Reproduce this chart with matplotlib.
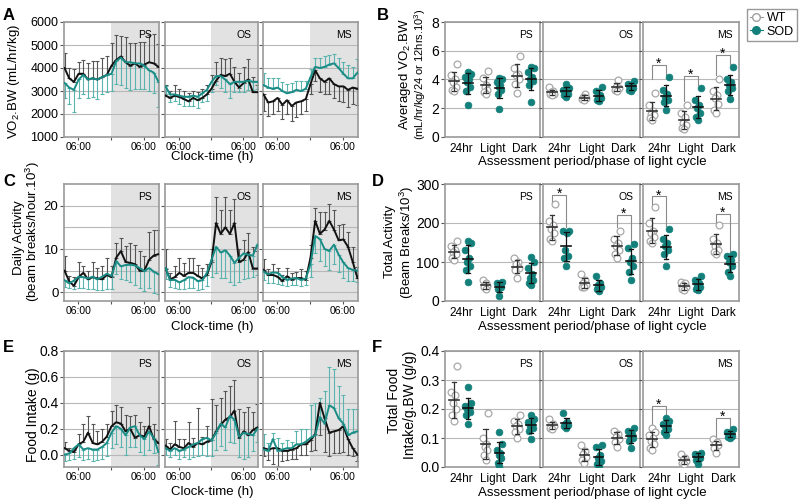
import numpy as np
import matplotlib
matplotlib.use("Agg")
import matplotlib.pyplot as plt
from matplotlib.lines import Line2D

plt.rcParams['font.family'] = ['Liberation Sans', 'DejaVu Sans']
plt.rcParams['mathtext.fontset'] = 'custom'
plt.rcParams['mathtext.rm'] = 'Liberation Sans'
plt.rcParams['mathtext.it'] = 'Liberation Sans:italic'

# ---- time course data (hours relative to 06:00, dark phase from 12 h) ----
HOURS = np.linspace(-5.0, 29.3, 21)
STAGES = ['PS', 'OS', 'MS']

VO2_PS_WT = [4000, 3550, 3400, 3750, 3750, 3500, 3550, 3500, 3600, 3700, 4100,
             4350, 4500, 4250, 4100, 4200, 4050, 4150, 4250, 4200, 4050]
VO2_PS_WT_ERR = [650, 450, 550, 500, 600, 700, 750, 800, 850, 800, 1000,
                 1100, 900, 1100, 1000, 900, 1100, 1000, 1200, 1300, 1000]
VO2_PS_SOD = [3350, 3150, 3050, 3500, 3700, 3500, 3550, 3500, 3600, 3700, 3750,
              4300, 4450, 4250, 4250, 4200, 4200, 4100, 3900, 3800, 3400]
VO2_PS_SOD_ERR = [650, 700, 950, 800, 850, 800, 800, 850, 750, 750, 750,
                  1000, 1200, 1100, 1200, 1100, 1100, 1000, 900, 900, 1100]
VO2_OS_WT = [2800, 2700, 2800, 2750, 2650, 2550, 2700, 2600, 2700, 2850, 3100,
             3450, 3700, 3650, 3750, 3400, 3150, 3350, 3500, 2950, 2950]
VO2_OS_WT_ERR = [450, 300, 450, 350, 350, 350, 300, 350, 400, 400, 600,
                 800, 750, 750, 700, 650, 650, 700, 900, 650, 300]
VO2_OS_SOD = [3200, 2850, 2850, 2800, 2750, 2750, 2800, 2750, 2900, 3050, 3400,
              3650, 3650, 3500, 3300, 3400, 3400, 3400, 3450, 3400, 3400]
VO2_OS_SOD_ERR = [350, 350, 300, 350, 400, 400, 450, 500, 400, 500, 450,
                  400, 500, 550, 600, 450, 450, 450, 400, 350, 300]
VO2_MS_WT = [2850, 2500, 2550, 2700, 2400, 2600, 2350, 2500, 2550, 2650, 3300,
             3900, 3550, 3400, 3550, 3300, 3200, 3200, 3050, 3150, 3100]
VO2_MS_WT_ERR = [700, 600, 550, 550, 600, 600, 650, 650, 550, 500, 450,
                 450, 600, 550, 700, 600, 650, 700, 750, 700, 700]
VO2_MS_SOD = [3250, 3150, 3100, 3150, 3000, 2900, 2950, 3050, 3000, 3100, 3600,
              4050, 4000, 4050, 4150, 4200, 4000, 3750, 3550, 3550, 3800]
VO2_MS_SOD_ERR = [550, 400, 450, 400, 400, 400, 400, 400, 450, 350, 350,
                  400, 450, 450, 400, 400, 450, 500, 600, 500, 600]

ACT_PS_WT = [5.0, 2.5, 1.5, 3.5, 4.5, 3.0, 3.5, 3.2, 3.0, 4.0, 3.5,
             8.0, 9.5, 7.0, 6.8, 6.5, 5.0, 5.0, 7.5, 8.5, 8.8]
ACT_PS_WT_ERR = [3.5, 1.2, 2.0, 3.5, 1.5, 2.0, 3.5, 2.5, 3.0, 4.0, 2.5,
                 3.5, 3.0, 3.8, 4.5, 4.5, 4.5, 3.5, 6.5, 6.0, 5.5]
ACT_PS_SOD = [2.8, 2.1, 2.7, 3.6, 3.5, 3.2, 3.6, 3.0, 3.6, 4.3, 3.8,
              7.2, 6.0, 6.3, 6.4, 6.2, 5.6, 4.9, 5.6, 4.8, 4.2]
ACT_PS_SOD_ERR = [1.5, 1.2, 2.0, 2.5, 2.5, 2.5, 2.8, 2.5, 3.0, 3.5, 3.0,
                  3.0, 3.0, 3.5, 4.0, 4.5, 4.5, 4.5, 4.5, 5.0, 4.5]
ACT_OS_WT = [5.5, 3.0, 3.5, 4.5, 3.8, 4.5, 4.5, 3.8, 3.2, 4.0, 7.0,
             16.0, 13.5, 15.0, 13.5, 16.0, 7.0, 7.5, 9.3, 5.5, 5.5]
ACT_OS_WT_ERR = [4.5, 1.5, 2.5, 3.5, 3.0, 3.5, 3.5, 2.5, 2.5, 2.5, 3.0,
                 6.0, 5.5, 7.0, 5.5, 5.5, 3.0, 4.5, 4.5, 5.0, 4.0]
ACT_OS_SOD = [5.6, 2.8, 2.9, 2.3, 2.8, 3.5, 3.4, 2.6, 2.8, 4.5, 7.5,
              10.5, 9.2, 9.7, 8.5, 6.8, 8.0, 9.0, 8.7, 8.5, 11.0]
ACT_OS_SOD_ERR = [2.5, 1.5, 2.0, 1.5, 2.0, 2.5, 2.5, 2.0, 2.0, 3.0, 4.0,
                  6.0, 6.0, 6.5, 6.0, 5.0, 5.5, 6.0, 5.5, 5.0, 7.0]
ACT_MS_WT = [5.2, 4.0, 4.0, 3.6, 2.6, 3.7, 2.9, 3.3, 3.3, 2.9, 8.0,
             16.5, 13.5, 14.5, 16.5, 14.5, 12.0, 12.2, 10.5, 7.0, 3.3]
ACT_MS_WT_ERR = [2.5, 1.5, 2.5, 2.0, 1.5, 2.0, 1.5, 1.5, 2.0, 2.0, 3.0,
                 3.0, 5.0, 4.0, 4.0, 4.5, 3.5, 3.5, 3.5, 3.5, 2.5]
ACT_MS_SOD = [4.8, 4.2, 4.6, 4.5, 3.6, 2.9, 3.2, 3.3, 2.9, 3.2, 6.5,
              13.0, 12.3, 10.0, 9.6, 11.0, 8.7, 6.9, 5.6, 5.2, 5.0]
ACT_MS_SOD_ERR = [2.0, 2.0, 2.5, 2.5, 2.0, 1.5, 1.5, 1.5, 1.5, 1.5, 3.0,
                  4.0, 5.0, 4.0, 4.5, 4.5, 4.0, 3.5, 3.0, 2.5, 2.5]

FOOD_PS_WT = [0.05, 0.03, 0.02, 0.08, 0.10, 0.17, 0.09, 0.08, 0.10, 0.14, 0.22,
              0.25, 0.24, 0.18, 0.20, 0.13, 0.15, 0.14, 0.22, 0.12, 0.09]
FOOD_PS_WT_ERR = [0.05, 0.02, 0.02, 0.08, 0.14, 0.13, 0.15, 0.10, 0.10, 0.10, 0.12,
                  0.13, 0.13, 0.13, 0.10, 0.18, 0.10, 0.08, 0.15, 0.12, 0.10]
FOOD_PS_SOD = [0.00, 0.01, 0.05, 0.08, 0.04, 0.05, 0.04, 0.04, 0.06, 0.09, 0.17,
               0.22, 0.20, 0.15, 0.21, 0.22, 0.15, 0.12, 0.18, 0.13, 0.02]
FOOD_PS_SOD_ERR = [0.05, 0.05, 0.08, 0.10, 0.08, 0.08, 0.09, 0.08, 0.09, 0.10, 0.12,
                   0.14, 0.14, 0.15, 0.15, 0.16, 0.13, 0.12, 0.14, 0.12, 0.10]
FOOD_OS_WT = [0.07, 0.04, 0.08, 0.06, 0.05, 0.09, 0.06, 0.09, 0.08, 0.10, 0.11,
              0.18, 0.23, 0.27, 0.29, 0.34, 0.13, 0.18, 0.15, 0.19, 0.21]
FOOD_OS_WT_ERR = [0.05, 0.05, 0.18, 0.06, 0.07, 0.16, 0.07, 0.27, 0.06, 0.12, 0.32,
                  0.20, 0.21, 0.22, 0.24, 0.24, 0.22, 0.15, 0.22, 0.14, 0.18]
FOOD_OS_SOD = [0.05, 0.03, 0.05, 0.03, 0.04, 0.06, 0.08, 0.09, 0.12, 0.13, 0.11,
               0.17, 0.24, 0.21, 0.30, 0.27, 0.14, 0.17, 0.16, 0.15, 0.20]
FOOD_OS_SOD_ERR = [0.05, 0.05, 0.05, 0.06, 0.06, 0.09, 0.10, 0.10, 0.12, 0.14, 0.12,
                   0.13, 0.17, 0.17, 0.20, 0.18, 0.16, 0.20, 0.18, 0.12, 0.10]
FOOD_MS_WT = [0.05, 0.04, 0.05, 0.05, 0.03, 0.03, 0.04, 0.05, 0.08, 0.08, 0.11,
              0.16, 0.40, 0.28, 0.17, 0.18, 0.19, 0.22, 0.12, 0.05, 0.00]
FOOD_MS_WT_ERR = [0.06, 0.08, 0.12, 0.14, 0.08, 0.07, 0.07, 0.08, 0.08, 0.08, 0.08,
                  0.12, 0.25, 0.26, 0.18, 0.17, 0.18, 0.20, 0.12, 0.06, 0.05]
FOOD_MS_SOD = [0.04, 0.03, 0.12, 0.03, 0.04, 0.05, 0.05, 0.08, 0.08, 0.10, 0.13,
               0.15, 0.29, 0.24, 0.38, 0.36, 0.28, 0.24, 0.15, 0.17, 0.18]
FOOD_MS_SOD_ERR = [0.12, 0.06, 0.05, 0.10, 0.05, 0.06, 0.05, 0.10, 0.12, 0.10, 0.25,
                   0.25, 0.15, 0.25, 0.30, 0.30, 0.25, 0.22, 0.20, 0.18, 0.17]

# ---- individual animal data: [24hr, Light, Dark] ----
PERIODS = ['24hr', 'Light', 'Dark']

AVO2_PS_WT = [[5.1, 4.3, 4.0, 3.8, 3.5, 3.3, 3.2], [4.6, 4.1, 3.6, 3.5, 3.3, 3.1, 3.0],
              [5.65, 4.8, 4.4, 4.3, 4.0, 3.7, 3.05]]
AVO2_PS_SOD = [[4.5, 4.4, 4.2, 4.0, 3.8, 3.5, 3.2, 2.2], [4.1, 4.0, 3.8, 3.6, 3.5, 3.3, 3.0, 1.95],
               [4.85, 4.8, 4.5, 4.2, 4.0, 3.9, 3.6, 2.45]]
AVO2_OS_WT = [[3.45, 3.2, 3.1, 3.0, 3.0, 2.9], [3.0, 2.8, 2.7, 2.65, 2.55],
              [3.95, 3.5, 3.4, 3.3, 3.2]]
AVO2_OS_SOD = [[3.7, 3.4, 3.3, 3.2, 3.1, 3.0, 2.9, 2.8], [3.5, 3.2, 2.9, 2.8, 2.7, 2.6, 2.5],
               [3.9, 3.7, 3.6, 3.5, 3.4, 3.3, 3.2]]
AVO2_MS_WT = [[3.05, 2.2, 1.8, 1.6, 1.5, 1.3, 1.15], [2.2, 1.7, 1.4, 1.0, 0.8, 0.65, 0.55],
              [4.05, 3.2, 2.9, 2.7, 2.3, 1.9, 1.65]]
AVO2_MS_SOD = [[4.15, 3.3, 3.0, 2.8, 2.6, 2.4, 1.9], [3.4, 2.6, 2.2, 2.0, 1.7, 1.4, 1.15],
               [4.85, 4.0, 3.8, 3.6, 3.4, 3.2, 2.65]]

TACT_PS_WT = [[155, 140, 130, 125, 120, 110, 105], [55, 45, 40, 38, 35, 30],
              [110, 100, 95, 85, 80, 60]]
TACT_PS_SOD = [[155, 148, 130, 110, 100, 90, 80, 50], [48, 45, 42, 38, 35, 30, 12],
               [112, 100, 85, 70, 60, 55, 45, 40]]
TACT_OS_WT = [[248, 205, 195, 185, 175, 160, 155], [68, 55, 45, 40, 35, 35],
              [180, 160, 150, 140, 130, 120, 110]]
TACT_OS_SOD = [[180, 180, 175, 130, 115, 110, 90], [65, 45, 40, 35, 30, 25],
               [145, 135, 110, 100, 90, 75, 55]]
TACT_MS_WT = [[240, 200, 180, 175, 165, 155, 150], [50, 45, 40, 35, 30, 28],
              [195, 160, 150, 140, 130, 125, 120]]
TACT_MS_SOD = [[185, 160, 150, 140, 130, 120, 90], [65, 55, 45, 40, 35, 30, 28],
               [120, 115, 105, 100, 90, 75, 65]]

TFOOD_PS_WT = [[0.35, 0.26, 0.25, 0.22, 0.20, 0.18, 0.16],
               [0.185, 0.10, 0.08, 0.07, 0.06, 0.04, 0.025],
               [0.18, 0.16, 0.15, 0.14, 0.13, 0.12, 0.10]]
TFOOD_PS_SOD = [[0.275, 0.22, 0.21, 0.20, 0.20, 0.19, 0.18, 0.15],
                [0.12, 0.08, 0.06, 0.05, 0.04, 0.03, 0.015, 0.005],
                [0.18, 0.165, 0.155, 0.15, 0.14, 0.135, 0.125, 0.095]]
TFOOD_OS_WT = [[0.165, 0.15, 0.145, 0.14, 0.135, 0.13],
               [0.075, 0.055, 0.045, 0.035, 0.025, 0.015],
               [0.125, 0.115, 0.105, 0.095, 0.085, 0.07]]
TFOOD_OS_SOD = [[0.185, 0.155, 0.15, 0.145, 0.14, 0.135],
                [0.075, 0.07, 0.04, 0.03, 0.02, 0.01, 0.005],
                [0.135, 0.125, 0.115, 0.11, 0.10, 0.09, 0.065]]
TFOOD_MS_WT = [[0.135, 0.12, 0.11, 0.10, 0.09, 0.08, 0.065, 0.06],
               [0.045, 0.03, 0.025, 0.02, 0.015, 0.01],
               [0.095, 0.085, 0.08, 0.075, 0.065, 0.05]]
TFOOD_MS_SOD = [[0.17, 0.16, 0.15, 0.145, 0.14, 0.13, 0.12, 0.11],
                [0.05, 0.045, 0.04, 0.035, 0.03, 0.025, 0.01],
                [0.13, 0.12, 0.115, 0.11, 0.108, 0.105, 0.10]]

# significance brackets: (stage index, period index, top, WT leg end, SOD leg end)
SIG_AVO2 = [(2, 0, 5.0, 4.0, 4.3), (2, 1, 4.25, 2.5, 3.6), (2, 2, 5.7, 4.3, 5.1)]
SIG_TACT = [(1, 0, 272, 255, 190), (1, 2, 220, 190, 150),
            (2, 0, 268, 245, 192), (2, 2, 222, 200, 125)]
SIG_TFOOD = [(2, 0, 0.21, 0.14, 0.178), (2, 2, 0.17, 0.10, 0.135)]

BLACK = '#111111'
TEAL = '#1a8c86'
TEAL_ERR = '#5bb3ae'
DOT_TEAL = '#13807b'
GRID = '#b8b8b8'
SPINE = '#9a9a9a'

W, H = 800, 504
fig = plt.figure(figsize=(8, 5.04), dpi=100)


def px_axes(x0, x1, y0, y1):
    return fig.add_axes([x0 / W, 1 - y1 / H, (x1 - x0) / W, (y1 - y0) / H])


def style_axes(ax):
    for s in ax.spines.values():
        s.set_color(SPINE)
        s.set_linewidth(1.2)
    ax.tick_params(colors='#555555', labelcolor='black', length=3, width=0.8)
    ax.set_axisbelow(True)


LEFT_X = [(64, 159), (165, 258), (263, 358)]
RIGHT_X = [(445, 540), (543, 640), (643, 739)]
ROWS_Y = [(22, 137), (184, 301), (351, 467)]
XLIM = (-5.2, 29.5)


def line_row(row, series, ylim, yticks, minor=None, label_size=9):
    y0, y1 = ROWS_Y[row]
    for i, (wt, wt_err, wt_dir, sod, sod_err, sod_dir) in enumerate(series):
        ax = px_axes(LEFT_X[i][0], LEFT_X[i][1], y0, y1)
        style_axes(ax)
        ax.axvspan(12, XLIM[1], color='#e2e2e2', lw=0, zorder=0)
        for vals, err, d, ec in [(wt, wt_err, wt_dir, '#555555'), (sod, sod_err, sod_dir, TEAL_ERR)]:
            err = np.asarray(err)
            zero = np.zeros_like(err)
            yerr = [zero, err] if d == 'up' else [err, zero]
            ax.errorbar(HOURS, vals, yerr=yerr, fmt='none', ecolor=ec,
                        elinewidth=0.8, capsize=1.4, capthick=0.8, zorder=2)
        ax.plot(HOURS, wt, color=BLACK, lw=1.4, zorder=3)
        ax.plot(HOURS, sod, color=TEAL, lw=1.4, zorder=4)
        ax.set_xlim(*XLIM)
        ax.set_ylim(*ylim)
        ax.set_yticks(yticks)
        if minor is not None:
            ax.set_yticks(minor, minor=True)
            ax.tick_params(axis='y', which='minor', length=0)
        ax.yaxis.grid(True, which='both', color=GRID, lw=0.8)
        ax.set_xticks([0, 12, 24])
        ax.set_xticklabels(['06:00', '', '06:00'], fontsize=7.5)
        ax.tick_params(axis='x', length=2, pad=1.5)
        if i == 0:
            ax.tick_params(axis='y', labelsize=label_size, pad=1)
        else:
            ax.set_yticklabels([])
        ax.text(0.93, 0.93, STAGES[i], transform=ax.transAxes, ha='right', va='top', fontsize=7.5)


def dot_row(row, wt_groups, sod_groups, ylim, yticks, sigs):
    y0, y1 = ROWS_Y[row]
    offs = [0.0, -0.06, 0.06, -0.03, 0.03, -0.09, 0.09, 0.0]
    for i in range(3):
        ax = px_axes(RIGHT_X[i][0], RIGHT_X[i][1], y0, y1)
        style_axes(ax)
        for c in range(3):
            for vals, dx, geno in [(wt_groups[i][c], -0.22, 'wt'), (sod_groups[i][c], 0.22, 'sod')]:
                vals = np.asarray(vals)
                order = np.argsort(vals)
                xs = np.empty(len(vals))
                xs[order] = [c + dx + offs[k % len(offs)] for k in range(len(vals))]
                if geno == 'wt':
                    ax.scatter(xs, vals, s=24, facecolor='white', edgecolor='#a8a8a8', lw=0.9, zorder=3)
                    mc = '#333333'
                else:
                    ax.scatter(xs, vals, s=24, facecolor=DOT_TEAL, edgecolor=DOT_TEAL, lw=0.5, zorder=3)
                    mc = BLACK
                m, sd = vals.mean(), vals.std(ddof=1)
                xc = c + dx
                ax.plot([xc - 0.15, xc + 0.15], [m, m], color=mc, lw=1.2, zorder=4)
                ax.plot([xc, xc], [m - sd, m + sd], color=mc, lw=0.9, zorder=4)
                ax.plot([xc - 0.07, xc + 0.07], [m + sd, m + sd], color=mc, lw=0.9, zorder=4)
                ax.plot([xc - 0.07, xc + 0.07], [m - sd, m - sd], color=mc, lw=0.9, zorder=4)
        span = ylim[1] - ylim[0]
        for st, c, top, lb, rb in sigs:
            if st != i:
                continue
            ax.plot([c - 0.22, c - 0.22, c + 0.22, c + 0.22], [lb, top, top, rb],
                    color='#8a8a8a', lw=0.8, zorder=2)
            ax.text(c, top + 0.01 * span, '*', ha='center', va='center', fontsize=10)
        ax.set_xlim(-0.5, 2.5)
        ax.set_ylim(*ylim)
        ax.set_yticks(yticks)
        ax.yaxis.grid(True, color=GRID, lw=0.8)
        ax.set_xticks([0, 1, 2])
        ax.set_xticklabels(PERIODS, fontsize=8.5)
        ax.tick_params(axis='x', length=0, pad=4)
        if i == 0:
            ax.tick_params(axis='y', labelsize=10, pad=1)
        else:
            ax.set_yticklabels([])
        ax.text(0.93, 0.93, STAGES[i], transform=ax.transAxes, ha='right', va='top', fontsize=7.5)


line_row(0, [(VO2_PS_WT, VO2_PS_WT_ERR, 'up', VO2_PS_SOD, VO2_PS_SOD_ERR, 'down'),
             (VO2_OS_WT, VO2_OS_WT_ERR, 'up', VO2_OS_SOD, VO2_OS_SOD_ERR, 'down'),
             (VO2_MS_WT, VO2_MS_WT_ERR, 'down', VO2_MS_SOD, VO2_MS_SOD_ERR, 'up')],
         (1000, 6000), [1000, 2000, 3000, 4000, 5000, 6000], label_size=9)
line_row(1, [(ACT_PS_WT, ACT_PS_WT_ERR, 'up', ACT_PS_SOD, ACT_PS_SOD_ERR, 'down'),
             (ACT_OS_WT, ACT_OS_WT_ERR, 'up', ACT_OS_SOD, ACT_OS_SOD_ERR, 'down'),
             (ACT_MS_WT, ACT_MS_WT_ERR, 'up', ACT_MS_SOD, ACT_MS_SOD_ERR, 'down')],
         (-2, 25), [0, 10, 20], minor=[5, 15], label_size=9.5)
line_row(2, [(FOOD_PS_WT, FOOD_PS_WT_ERR, 'up', FOOD_PS_SOD, FOOD_PS_SOD_ERR, 'down'),
             (FOOD_OS_WT, FOOD_OS_WT_ERR, 'up', FOOD_OS_SOD, FOOD_OS_SOD_ERR, 'down'),
             (FOOD_MS_WT, FOOD_MS_WT_ERR, 'down', FOOD_MS_SOD, FOOD_MS_SOD_ERR, 'up')],
         (-0.095, 0.8), [0.0, 0.2, 0.4, 0.6, 0.8], label_size=10)

dot_row(0, [AVO2_PS_WT, AVO2_OS_WT, AVO2_MS_WT], [AVO2_PS_SOD, AVO2_OS_SOD, AVO2_MS_SOD],
        (0, 8), [0, 2, 4, 6, 8], SIG_AVO2)
dot_row(1, [TACT_PS_WT, TACT_OS_WT, TACT_MS_WT], [TACT_PS_SOD, TACT_OS_SOD, TACT_MS_SOD],
        (0, 300), [0, 100, 200, 300], SIG_TACT)
dot_row(2, [TFOOD_PS_WT, TFOOD_OS_WT, TFOOD_MS_WT], [TFOOD_PS_SOD, TFOOD_OS_SOD, TFOOD_MS_SOD],
        (0, 0.4), [0.0, 0.1, 0.2, 0.3, 0.4], SIG_TFOOD)


def ftext(x, y, s, **kw):
    fig.text(x / W, 1 - y / H, s, **kw)


# panel letters
for letter, x, y in [('A', 3, 15), ('B', 377, 15), ('C', 3, 181), ('D', 372, 181),
                     ('E', 3, 347), ('F', 372, 347)]:
    ftext(x, y, letter, fontsize=12, fontweight='bold', va='center', ha='left')

# y labels
ftext(14, 81, 'VO$_2$.BW (mL/hr/kg)', rotation=90, ha='center', va='center', fontsize=9.5)
ftext(19, 238, 'Daily Activity', rotation=90, ha='center', va='center', fontsize=9.5)
ftext(33, 232, '(beam breaks/hour.10$^3$)', rotation=90, ha='center', va='center', fontsize=9.5)
ftext(33, 415, 'Food Intake (g)', rotation=90, ha='center', va='center', fontsize=10)
ftext(405, 74, 'Averaged VO$_2$.BW', rotation=90, ha='center', va='center', fontsize=9.5)
ftext(420, 74, '(mL/hr/kg/24 or 12hrs.10$^3$)', rotation=90, ha='center', va='center', fontsize=8)
ftext(390, 242, 'Total Activity', rotation=90, ha='center', va='center', fontsize=9.5)
ftext(407, 242, '(Beam Breaks/10$^3$)', rotation=90, ha='center', va='center', fontsize=9.5)
ftext(394, 400, 'Total Food', rotation=90, ha='center', va='center', fontsize=10)
ftext(410, 405, 'Intake/g.BW (g/g)', rotation=90, ha='center', va='center', fontsize=10)

# x labels
for y in [157, 327, 492]:
    ftext(212, y, 'Clock-time (h)', ha='center', va='center', fontsize=9.5)
for y in [162, 327, 493]:
    ftext(592, y, 'Assessment period/phase of light cycle', ha='center', va='center', fontsize=9.5)

handles = [Line2D([], [], color='#999999', lw=0.8, marker='o', mfc='white', mec='#a0a0a0', ms=5.5),
           Line2D([], [], color=DOT_TEAL, lw=0.8, marker='o', mfc=DOT_TEAL, mec=DOT_TEAL, ms=5.5)]
fig.legend(handles, ['WT', 'SOD'], loc='upper right', bbox_to_anchor=(0.998, 0.985),
           fontsize=9, handlelength=1.0, handletextpad=0.35, labelspacing=0.15,
           borderpad=0.25, borderaxespad=0.1, fancybox=False, edgecolor='#999999', framealpha=1)

fig.savefig('out.png', dpi=100)
